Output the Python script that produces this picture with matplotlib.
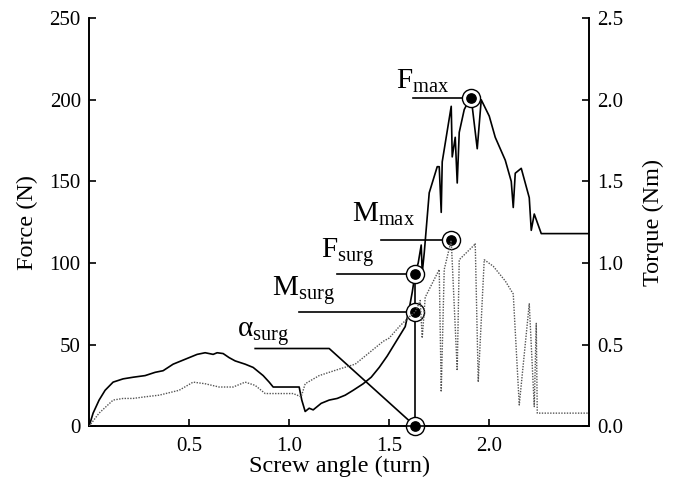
import matplotlib
matplotlib.use("Agg")
from matplotlib import pyplot as plt

plt.rcParams['font.family'] = ['Liberation Serif', 'DejaVu Serif']
plt.rcParams['mathtext.fontset'] = 'custom'
plt.rcParams['mathtext.rm'] = 'Liberation Serif'
plt.rcParams['mathtext.it'] = 'Liberation Serif'

# Force curve (N) vs screw angle (turn) #
force_x = [0.00, 0.02, 0.05, 0.08, 0.12, 0.17, 0.22, 0.28, 0.33, 0.37, 0.42, 0.46, 0.50,
           0.54, 0.58, 0.62, 0.64, 0.67, 0.70, 0.73, 0.78, 0.82, 0.85, 0.87, 0.90, 0.92,
           1.00, 1.05, 1.063, 1.08, 1.10, 1.12, 1.16, 1.20, 1.24, 1.28, 1.32, 1.37, 1.41,
           1.45, 1.49, 1.53, 1.58, 1.60, 1.615, 1.625, 1.63, 1.645, 1.66, 1.665, 1.675,
           1.70, 1.74, 1.75, 1.76, 1.765, 1.81, 1.815, 1.83, 1.84, 1.85, 1.875, 1.90, 1.91,
           1.94, 1.96, 2.00, 2.03, 2.08, 2.11, 2.12, 2.13, 2.16, 2.18, 2.20, 2.21, 2.225,
           2.26, 2.50]
force_y = [0, 8, 16, 22, 27, 29, 30, 31, 33, 34, 38, 40, 42,
           44, 45, 44, 45, 44.5, 42, 40, 38, 36, 33, 31, 27, 24,
           24, 24, 16, 9, 11, 10, 14, 16, 17, 19, 22, 26, 30,
           36, 43, 51, 61, 72, 82, 90, 94, 100, 111, 94, 106,
           143, 159, 159, 131, 162, 196, 165, 177, 149, 180, 194, 200, 201,
           170, 200, 190, 177, 163, 150, 134, 155, 158, 149, 140, 120, 130,
           118, 118]

# Torque curve (Nm) #
torque_x = [0.00, 0.05, 0.12, 0.17, 0.22, 0.28, 0.35, 0.45, 0.52, 0.58, 0.65, 0.72,
            0.78, 0.83, 0.88, 0.95, 1.02, 1.06, 1.08, 1.15, 1.25, 1.33, 1.40, 1.47,
            1.50, 1.55, 1.60, 1.63, 1.655, 1.665, 1.68, 1.75, 1.76, 1.775, 1.81, 1.84,
            1.85, 1.925, 1.93, 1.945, 1.975, 2.02, 2.08, 2.12, 2.15, 2.20, 2.225, 2.235,
            2.24, 2.50]
torque_y = [0.00, 0.08, 0.16, 0.17, 0.17, 0.18, 0.19, 0.22, 0.27, 0.26, 0.24, 0.24,
            0.27, 0.25, 0.20, 0.20, 0.20, 0.18, 0.26, 0.31, 0.35, 0.38, 0.45, 0.52,
            0.54, 0.61, 0.67, 0.70, 0.77, 0.54, 0.79, 0.96, 0.21, 0.96, 1.14, 0.34,
            1.02, 1.11, 1.12, 0.27, 1.02, 0.98, 0.89, 0.81, 0.13, 0.75, 0.12, 0.63,
            0.08, 0.08]

# Characteristic points (angle, force-axis value) #
alpha_surg = 1.63
F_surg = 93.5
M_surg = 0.70
M_max_x, M_max = 1.81, 1.14
F_max_x, F_max = 1.91, 201

fig = plt.figure(figsize=(6.75, 4.91), dpi=100)
ax = fig.add_axes([0.132, 0.132, 0.741, 0.831])
ax2 = ax.twinx()

ax.plot(force_x, force_y, color='black', lw=1.2, zorder=3)
ax2.plot(torque_x, torque_y, color='#555555', lw=1.0, ls=(0, (1, 1)), zorder=3)

# Leader lines #
ax.plot([alpha_surg, alpha_surg], [0, F_surg], color='black', lw=1.2, zorder=4)
ax.plot([1.62, F_max_x], [F_max, F_max], color='black', lw=1.2, zorder=4)
ax.plot([1.46, M_max_x], [M_max * 100, M_max * 100], color='black', lw=1.2, zorder=4)
ax.plot([1.24, alpha_surg], [F_surg, F_surg], color='black', lw=1.2, zorder=4)
ax.plot([1.05, alpha_surg], [M_surg * 100, M_surg * 100], color='black', lw=1.2, zorder=4)
ax.plot([0.83, 1.20, alpha_surg], [47.6, 47.6, 0], color='black', lw=1.2, zorder=4)

# Markers #
pts_x = [alpha_surg, alpha_surg, alpha_surg, M_max_x, F_max_x]
pts_y = [0, F_surg, M_surg * 100, M_max * 100, F_max]
ax.scatter(pts_x, pts_y, s=170, facecolor='white', edgecolor='black', lw=1.0, zorder=5, clip_on=False)
ax.scatter(pts_x, pts_y, s=45, color='black', zorder=6, clip_on=False)

# Labels #
ax.text(1.535, 207, r'$\mathrm{F}_{\mathrm{max}}$', fontsize=21)
ax.text(1.315, 125, r'$\mathrm{M}_{\mathrm{max}}$', fontsize=21)
ax.text(1.16, 103, r'$\mathrm{F}_{\mathrm{surg}}$', fontsize=21)
ax.text(0.915, 80, r'$\mathrm{M}_{\mathrm{surg}}$', fontsize=21)
ax.text(0.74, 55, r'$\mathrm{\alpha}_{\mathrm{surg}}$', fontsize=21)

ax.set_xlim(0, 2.5)
ax.set_ylim(0, 250)
ax2.set_ylim(0, 2.5)
ax.set_xticks([0.5, 1.0, 1.5, 2.0])
ax.set_xticklabels(['0.5', '1.0', '1.5', '2.0'])
ax.set_yticks([0, 50, 100, 150, 200, 250])
ax2.set_yticks([0, 0.5, 1.0, 1.5, 2.0, 2.5])
ax2.set_yticklabels(['0.0', '0.5', '1.0', '1.5', '2.0', '2.5'])

for a in (ax, ax2):
    a.spines['top'].set_visible(False)
    for s in a.spines.values():
        s.set_linewidth(1.2)
    a.tick_params(direction='in', length=5, width=1.2, labelsize=15)
ax.tick_params(axis='y', pad=6)
ax.tick_params(axis='x', pad=8)
ax2.tick_params(axis='y', pad=6)

ax.set_xlabel('Screw angle (turn)', fontsize=17.5, labelpad=0)
ax.set_ylabel('Force (N)', fontsize=17.5, labelpad=8)
ax2.set_ylabel('Torque (Nm)', fontsize=17.5, labelpad=14)

fig.savefig('out.png', dpi=100)
